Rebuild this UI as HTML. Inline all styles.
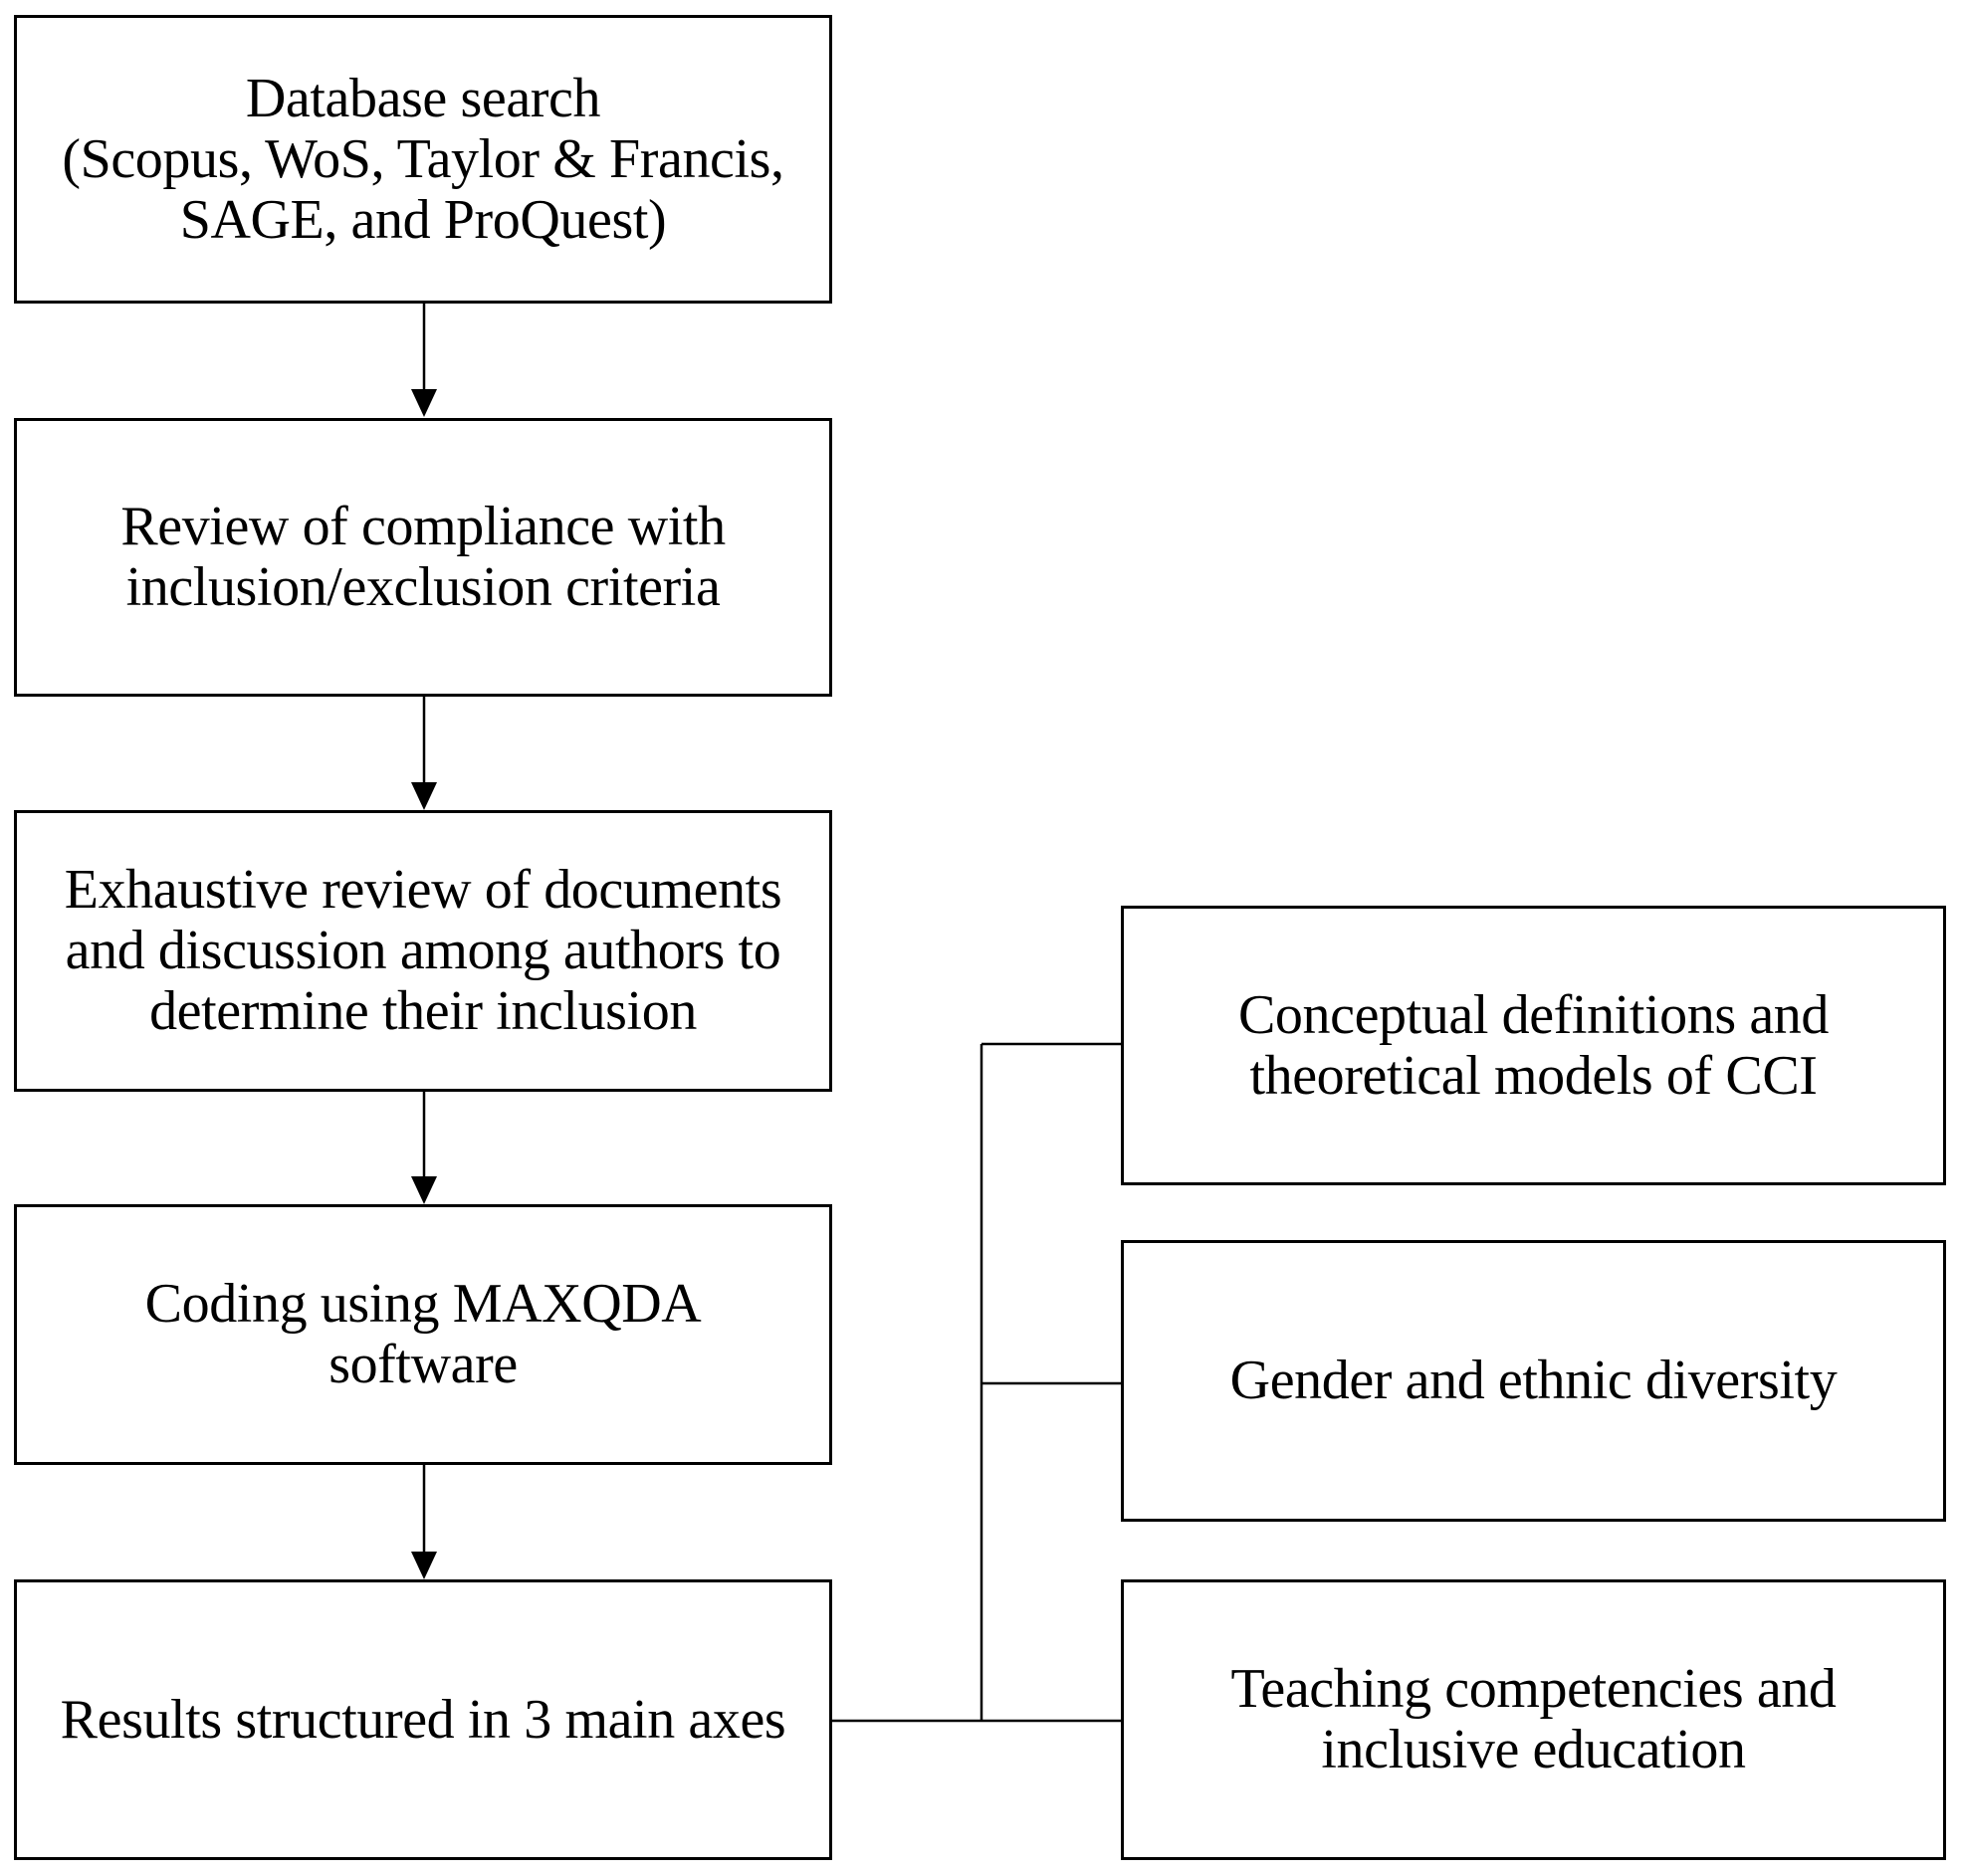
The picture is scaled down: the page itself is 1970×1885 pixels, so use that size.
<!DOCTYPE html>
<html><head><style>
body{margin:0;width:1970px;height:1885px;background:#fff;position:relative;overflow:hidden}
.b{position:absolute;box-sizing:border-box;border:3px solid #000;display:flex;align-items:center;justify-content:center;text-align:center;font-family:"Liberation Serif",serif;font-size:56px;letter-spacing:-0.4px;line-height:61px;color:#000}
svg{position:absolute;left:0;top:0}
</style></head><body>
<div class="b" style="left:14px;top:15px;width:822px;height:290px">Database search<br>(Scopus, WoS, Taylor &amp; Francis,<br>SAGE, and ProQuest)</div>
<div class="b" style="left:14px;top:420px;width:822px;height:280px">Review of compliance with<br>inclusion/exclusion criteria</div>
<div class="b" style="left:14px;top:814px;width:822px;height:283px">Exhaustive review of documents<br>and discussion among authors to<br>determine their inclusion</div>
<div class="b" style="left:14px;top:1210px;width:822px;height:262px">Coding using MAXQDA<br>software</div>
<div class="b" style="left:14px;top:1587px;width:822px;height:282px">Results structured in 3 main axes</div>
<div class="b" style="left:1126px;top:910px;width:829px;height:281px">Conceptual definitions and<br>theoretical models of CCI</div>
<div class="b" style="left:1126px;top:1246px;width:829px;height:283px">Gender and ethnic diversity</div>
<div class="b" style="left:1126px;top:1587px;width:829px;height:282px">Teaching competencies and<br>inclusive education</div>
<svg width="1970" height="1885">
<g stroke="#000" stroke-width="2.5" fill="none">
<line x1="426" y1="305" x2="426" y2="395"/>
<line x1="426" y1="700" x2="426" y2="790"/>
<line x1="426" y1="1097" x2="426" y2="1186"/>
<line x1="426" y1="1472" x2="426" y2="1563"/>
<line x1="836" y1="1729" x2="1126" y2="1729"/>
<line x1="986" y1="1049" x2="986" y2="1729"/>
<line x1="986" y1="1049" x2="1126" y2="1049"/>
<line x1="986" y1="1390" x2="1126" y2="1390"/>
</g>
<g fill="#000">
<polygon points="413,391 439,391 426,419"/>
<polygon points="413,786 439,786 426,814"/>
<polygon points="413,1182 439,1182 426,1210"/>
<polygon points="413,1559 439,1559 426,1587"/>
</g>
</svg>
</body></html>
